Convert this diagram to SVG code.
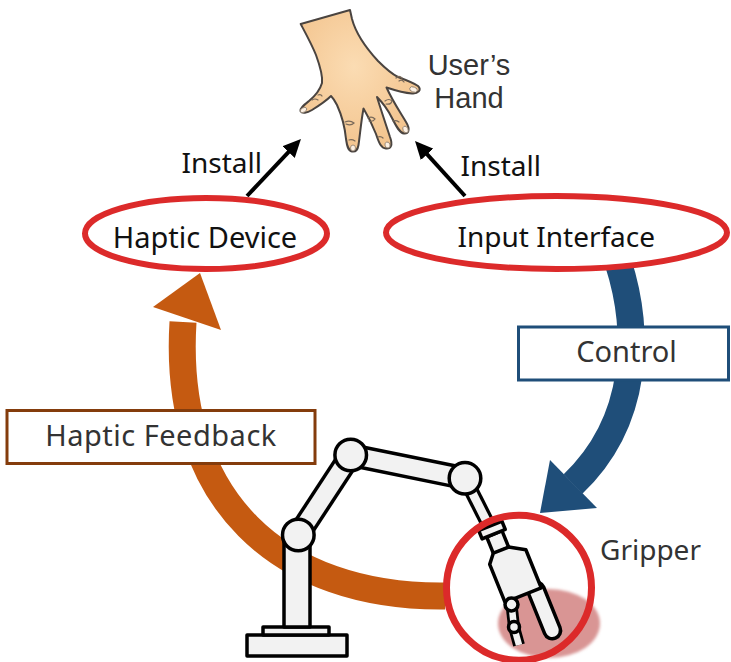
<svg xmlns="http://www.w3.org/2000/svg" width="731" height="662" viewBox="0 0 731 662">
  <defs>
    <style>
      .lbl { font-family: "Noto Sans", "Liberation Sans", sans-serif; fill: #111; }
      .soft { font-family: "Noto Sans", "Liberation Sans", sans-serif; fill: #333; }
      .tight { font-family: "Liberation Sans", "Noto Sans", sans-serif; fill: #333; }
      .ring { fill: #fff; stroke: #dc2a2a; stroke-width: 6; }
      .arm { fill: #f2f2f2; stroke: #000; stroke-width: 3.5; stroke-linejoin: round; }
      .edge-out { stroke: #000; stroke-linecap: butt; fill: none; }
      .edge-in { stroke: #f2f2f2; stroke-linecap: butt; fill: none; }
      .knuckle { fill: none; stroke: #7a6a5a; stroke-width: 1.2; stroke-linecap: round; }
      .nail { fill: #fdf1e4; stroke: #8a7a6a; stroke-width: 0.8; }
    </style>
    <marker id="arrow-black" markerUnits="userSpaceOnUse" markerWidth="18" markerHeight="17" refX="6" refY="8.5" orient="auto">
      <path d="M0,0 L18,8.5 L0,17 z" fill="#000"/>
    </marker>
    <radialGradient id="skin" cx="0.45" cy="0.4" r="0.6">
      <stop offset="0" stop-color="#fbdcb3"/>
      <stop offset="1" stop-color="#f3c48e"/>
    </radialGradient>
    <filter id="soft-edge" x="-10%" y="-10%" width="120%" height="120%">
      <feGaussianBlur stdDeviation="1.5"/>
    </filter>
  </defs>

  <rect width="731" height="662" fill="#fff"/>

  <!-- connectors -->
  <g id="connectors">
    <!-- install arrows -->
    <line x1="247" y1="196" x2="292.7" y2="147.7" stroke="#000" stroke-width="4" marker-end="url(#arrow-black)"/>
    <line x1="465" y1="196" x2="423.1" y2="149.9" stroke="#000" stroke-width="4" marker-end="url(#arrow-black)"/>

    <!-- haptic feedback loop -->
    <path d="M445,596 C280,598 172,500 183,322" fill="none" stroke="#c55a11" stroke-width="27"/>
    <polygon points="200,273 153,307 221,330" fill="#c55a11"/>

    <!-- control loop -->
    <path d="M618,262 C640,330 640,420 573,484" fill="none" stroke="#1f4e79" stroke-width="27"/>
    <polygon points="540,513 550,460 597,508" fill="#1f4e79"/>

    <g id="label-control">
      <rect x="518.5" y="327" width="210" height="53" fill="#fff" stroke="#1f4e79" stroke-width="3"/>
      <text class="soft" x="626.5" y="362" font-size="29" text-anchor="middle">Control</text>
    </g>
    <g id="label-haptic-feedback">
      <rect x="7" y="410.5" width="308" height="53" fill="#fff" stroke="#843c0c" stroke-width="3"/>
      <text class="soft" x="161" y="446" font-size="29" text-anchor="middle" letter-spacing="0.5">Haptic Feedback</text>
    </g>
    <text class="lbl" x="221.7" y="173" font-size="28" text-anchor="middle">Install</text>
    <text class="lbl" x="500.8" y="176" font-size="28" text-anchor="middle">Install</text>
  </g>

  <!-- user's hand -->
  <g id="users-hand">
    <path d="M300.7,24 L350,10 L352,19 C356,34 366,48 378,61 C386,69 392,74 398,77 C406,80 414,83 418,86 C422,90 418,94 412,93.5 C404,93 394,90 386.5,87.5 C392,100 400,112 406,122 C411,130 408,134 404,133.5 C400,133 397,128 392,118 C388,110 382,102 377,97 C381,110 386,125 390,137 C393,145 391,149 386,148.5 C381,148 379,143 376,134 C372,124 368,116 363.5,108.5 C361,122 360,135 358.5,145 C357.5,151 355,152 352,151.5 C348,150.5 347,146 346,139 C345,128 342,116 337,105 C335,101 333,98 331,96 C327,100 320,105 312,110 C307,113 302,114 300.5,111 C300,108 304,105 309,101 C315,96 320,90 322,83 C323,75 320,66 316,55 C312,45 306,34 300.7,24 Z" fill="url(#skin)" stroke="#4a4440" stroke-width="2" stroke-linejoin="round"/>
    <ellipse class="nail" cx="413.5" cy="89.5" rx="4" ry="2.5" transform="rotate(20 413.5 89.5)"/>
    <ellipse class="nail" cx="405.5" cy="129.5" rx="2.5" ry="3.5" transform="rotate(-25 405.5 129.5)"/>
    <ellipse class="nail" cx="387.5" cy="145" rx="2.5" ry="3" transform="rotate(-20 387.5 145)"/>
    <ellipse class="nail" cx="353" cy="148" rx="2.5" ry="3"/>
    <ellipse class="nail" cx="303.5" cy="110" rx="3.5" ry="2.2" transform="rotate(-30 303.5 110)"/>
    <path class="knuckle" d="M396,78 q3,-3 6,0 M399,81 q3,-2 5,1"/>
    <path class="knuckle" d="M385,101 q4,-3 7,0 q-1,4 -6,3 M393,121 q3,-1 6,1"/>
    <path class="knuckle" d="M368,118 q4,-2 7,1 q-2,3 -6,2 M378,137 q3,-1 5,1"/>
    <path class="knuckle" d="M345,122 q5,-2 9,1 q-3,3 -8,1 M349,140 q3,-1 6,1"/>
    <path class="knuckle" d="M312,100 q3,-2 6,0 M318,95 q3,-1 4,1"/>
    <text class="tight" x="469" y="75" font-size="29" text-anchor="middle">User’s</text>
    <text class="tight" x="469" y="108" font-size="29" text-anchor="middle">Hand</text>
  </g>

  <!-- haptic device -->
  <g id="haptic-device">
    <ellipse class="ring" cx="206" cy="233.5" rx="121" ry="35.5"/>
    <text class="lbl" x="205" y="248" font-size="29" text-anchor="middle">Haptic Device</text>
  </g>

  <!-- input interface -->
  <g id="input-interface">
    <ellipse class="ring" cx="556.5" cy="232.5" rx="170.5" ry="36.5"/>
    <text class="lbl" x="556.3" y="247" font-size="28" text-anchor="middle">Input Interface</text>
  </g>

  <!-- robot arm -->
  <g id="robot-arm">
    <rect class="arm" x="247" y="635" width="100" height="21"/>
    <rect class="arm" x="263" y="627" width="66" height="8"/>
    <rect class="arm" x="284" y="535" width="26" height="92"/>
    <line class="edge-out" x1="298.3" y1="535" x2="350.7" y2="455" stroke-width="24"/>
    <line class="edge-in" x1="298.3" y1="535" x2="350.7" y2="455" stroke-width="17"/>
    <line class="edge-out" x1="350.7" y1="455" x2="465" y2="478.3" stroke-width="24"/>
    <line class="edge-in" x1="350.7" y1="455" x2="465" y2="478.3" stroke-width="17"/>
    <line class="edge-out" x1="465" y1="478.3" x2="490" y2="528" stroke-width="15"/>
    <line class="edge-in" x1="465" y1="478.3" x2="490" y2="528" stroke-width="8.5"/>
    <circle class="arm" cx="298.3" cy="535" r="15.8"/>
    <circle class="arm" cx="350.7" cy="455" r="15.8"/>
    <circle class="arm" cx="465" cy="478.3" r="15.8"/>
  </g>

  <!-- gripper -->
  <g id="gripper">
    <ellipse cx="549" cy="623.5" rx="51" ry="34.5" fill="#d99594" filter="url(#soft-edge)"/>
    <g transform="translate(492 530) rotate(-22)">
      <rect class="arm" x="10" y="64" width="16.5" height="60" rx="8.2"/>
      <rect class="arm" x="-7.5" y="4.5" width="16.5" height="18"/>
      <polygon class="arm" points="-7.5,22 9,22 24,31 24,72 -15,72 -15,31"/>
      <rect class="arm" x="-12.5" y="-4.5" width="25" height="9"/>
    </g>
    <line class="edge-out" x1="514" y1="627" x2="519" y2="645" stroke-width="12" stroke-linecap="round"/>
    <line class="edge-in" x1="514" y1="627" x2="519" y2="645" stroke-width="6.5" stroke-linecap="round"/>
    <line class="edge-out" x1="511.5" y1="604.5" x2="514" y2="627" stroke-width="12"/>
    <line class="edge-in" x1="511.5" y1="604.5" x2="514" y2="627" stroke-width="6.5"/>
    <circle class="arm" cx="514" cy="627" r="5.5" stroke-width="2.5"/>
    <circle class="arm" cx="511.5" cy="604.5" r="6.5" stroke-width="2.5"/>
    <circle cx="519" cy="587.7" r="72.5" fill="none" stroke="#dc2a2a" stroke-width="7"/>
    <text class="soft" x="600" y="560" font-size="28">Gripper</text>
  </g>
</svg>
